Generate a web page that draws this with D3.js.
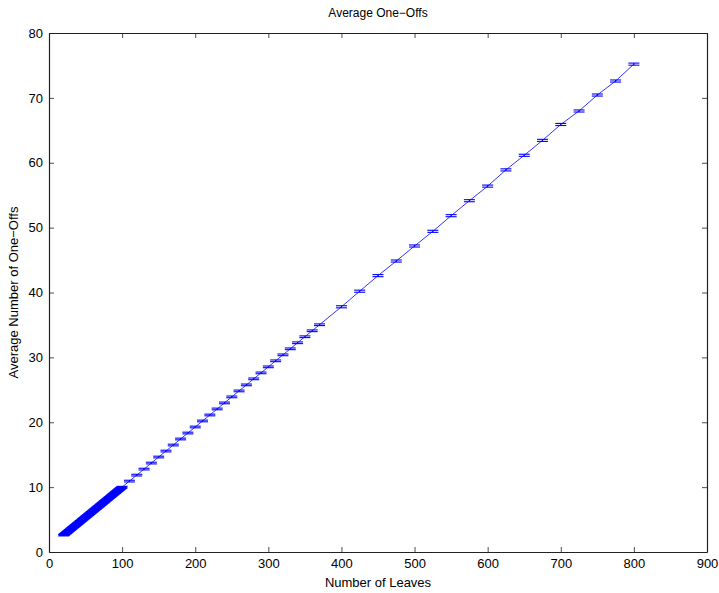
<!DOCTYPE html>
<html>
<head>
<meta charset="utf-8">
<script src="https://cdn.jsdelivr.net/npm/d3@7"></script>
<style>
  html, body { margin: 0; padding: 0; background: #fff; }
  svg { display: block; font-family: "Liberation Sans", Arial, Helvetica, sans-serif; }
</style>
</head>
<body>
<svg id="chart" width="719" height="593"></svg>
<script>
// ---- data ----
const leavesDense = [20,21,22,23,24,25,26,27,28,29,30,31,32,33,34,35,36,37,38,39,40,41,42,43,44,45,46,47,48,49,50,51,52,53,54,55,56,57,58,59,60,61,62,63,64,65,66,67,68,69,70,71,72,73,74,75,76,77,78,79,80,81,82,83,84,85,86,87,88,89,90,91,92,93,94,95,96,97,98,99,100];
const oneOffsDense = [2.60,2.69,2.79,2.88,2.97,3.06,3.16,3.25,3.34,3.43,3.53,3.62,3.71,3.80,3.90,3.99,4.08,4.17,4.27,4.36,4.45,4.54,4.64,4.73,4.82,4.91,5.01,5.10,5.19,5.28,5.38,5.47,5.56,5.65,5.75,5.84,5.93,6.02,6.12,6.21,6.30,6.39,6.49,6.58,6.67,6.76,6.86,6.95,7.04,7.13,7.23,7.32,7.41,7.50,7.60,7.69,7.78,7.87,7.97,8.06,8.15,8.24,8.34,8.43,8.52,8.61,8.71,8.80,8.89,8.98,9.08,9.17,9.26,9.35,9.45,9.54,9.63,9.72,9.82,9.91,10.00];
const leavesMid = [110,120,130,140,150,160,170,180,190,200,210,220,230,240,250,260,270,280,290,300,310,320,330,340,350,360,370];
const oneOffsMid = [10.93,11.85,12.78,13.71,14.64,15.56,16.49,17.42,18.34,19.27,20.20,21.12,22.05,22.98,23.91,24.83,25.76,26.69,27.61,28.54,29.47,30.39,31.32,32.25,33.18,34.10,35.03];
const leavesLarge = [400,425,450,475,500,525,550,575,600,625,650,675,700,725,750,775,800];
const oneOffsLarge = [37.80,40.20,42.60,44.85,47.17,49.43,51.84,54.15,56.40,58.90,61.15,63.45,65.90,67.98,70.44,72.60,75.20];
const errDense = 0.12;
const errMid = 0.13;
const errLarge = 0.16;

const xTicks = [0,100,200,300,400,500,600,700,800,900];
const yTicks = [0,10,20,30,40,50,60,70,80];
const titleText = "Average One\u2212Offs";
const xLabelText = "Number of Leaves";
const yLabelText = "Average Number of One\u2212Offs";

// ---- build table ----
const points = [];
leavesDense.forEach((v, i) => points.push({x: v, y: oneOffsDense[i], e: errDense}));
leavesMid.forEach((v, i) => points.push({x: v, y: oneOffsMid[i], e: errMid}));
leavesLarge.forEach((v, i) => points.push({x: v, y: oneOffsLarge[i], e: errLarge}));

(function draw() {
  const svg = d3.select("#chart");
  const pL = 49, pR = 707, pT = 33, pB = 552;
  const x = d3.scaleLinear().domain([0, 900]).range([pL, pR]);
  const y = d3.scaleLinear().domain([0, 80]).range([pB, pT]);
  const blue = "#0000ff";
  const tickLen = 5;

  svg.append("rect").attr("x", 0).attr("y", 0).attr("width", 719).attr("height", 593).attr("fill", "#fff");

  const g = svg.append("g");
  g.append("path")
    .datum(points)
    .attr("fill", "none")
    .attr("stroke", blue)
    .attr("stroke-width", 0.8)
    .attr("d", d3.line().x(d => x(d.x)).y(d => y(d.y)));

  const capHalf = 5.5;
  const eb = g.append("g").attr("stroke", blue).attr("stroke-width", 1.1).attr("fill", "none");
  points.forEach(d => {
    const cx = x(d.x), y1 = y(d.y - d.e), y2 = y(d.y + d.e);
    eb.append("line").attr("x1", cx).attr("x2", cx).attr("y1", y1).attr("y2", y2);
    eb.append("line").attr("x1", cx - capHalf).attr("x2", cx + capHalf).attr("y1", y1).attr("y2", y1);
    eb.append("line").attr("x1", cx - capHalf).attr("x2", cx + capHalf).attr("y1", y2).attr("y2", y2);
  });

  const axColor = "#222";
  const xAxisB = d3.axisBottom(x).tickValues(xTicks).tickSizeInner(-tickLen).tickSizeOuter(0).tickPadding(7).tickFormat(d3.format("d"));
  const xAxisT = d3.axisTop(x).tickValues(xTicks).tickSizeInner(-tickLen).tickSizeOuter(0).tickFormat("");
  const yAxisL = d3.axisLeft(y).tickValues(yTicks).tickSizeInner(-tickLen).tickSizeOuter(0).tickPadding(6).tickFormat(d3.format("d"));
  const yAxisR = d3.axisRight(y).tickValues(yTicks).tickSizeInner(-tickLen).tickSizeOuter(0).tickFormat("");

  function style(sel) {
    sel.select(".domain").attr("stroke", axColor).attr("stroke-width", 1.2);
    sel.selectAll(".tick line").attr("stroke", axColor).attr("stroke-width", 0.8);
    sel.selectAll(".tick text").attr("fill", "#000").attr("font-size", 13)
       .attr("font-family", "'Liberation Sans', Arial, Helvetica, sans-serif");
  }
  svg.append("g").attr("transform", `translate(0,${pB})`).call(xAxisB).call(style);
  svg.append("g").attr("transform", `translate(0,${pT})`).call(xAxisT).call(style);
  svg.append("g").attr("transform", `translate(${pL},0)`).call(yAxisL).call(style);
  svg.append("g").attr("transform", `translate(${pR},0)`).call(yAxisR).call(style);

  svg.append("text").attr("x", (pL + pR) / 2).attr("y", 17).attr("text-anchor", "middle")
    .attr("font-size", 12).attr("fill", "#000").text(titleText);
  svg.append("text").attr("x", (pL + pR) / 2).attr("y", 587).attr("text-anchor", "middle")
    .attr("font-size", 13).attr("fill", "#000").text(xLabelText);
  svg.append("text").attr("transform", `translate(18,${(pT + pB) / 2}) rotate(-90)`)
    .attr("text-anchor", "middle").attr("font-size", 13).attr("fill", "#000").text(yLabelText);
})();
</script>
</body>
</html>
